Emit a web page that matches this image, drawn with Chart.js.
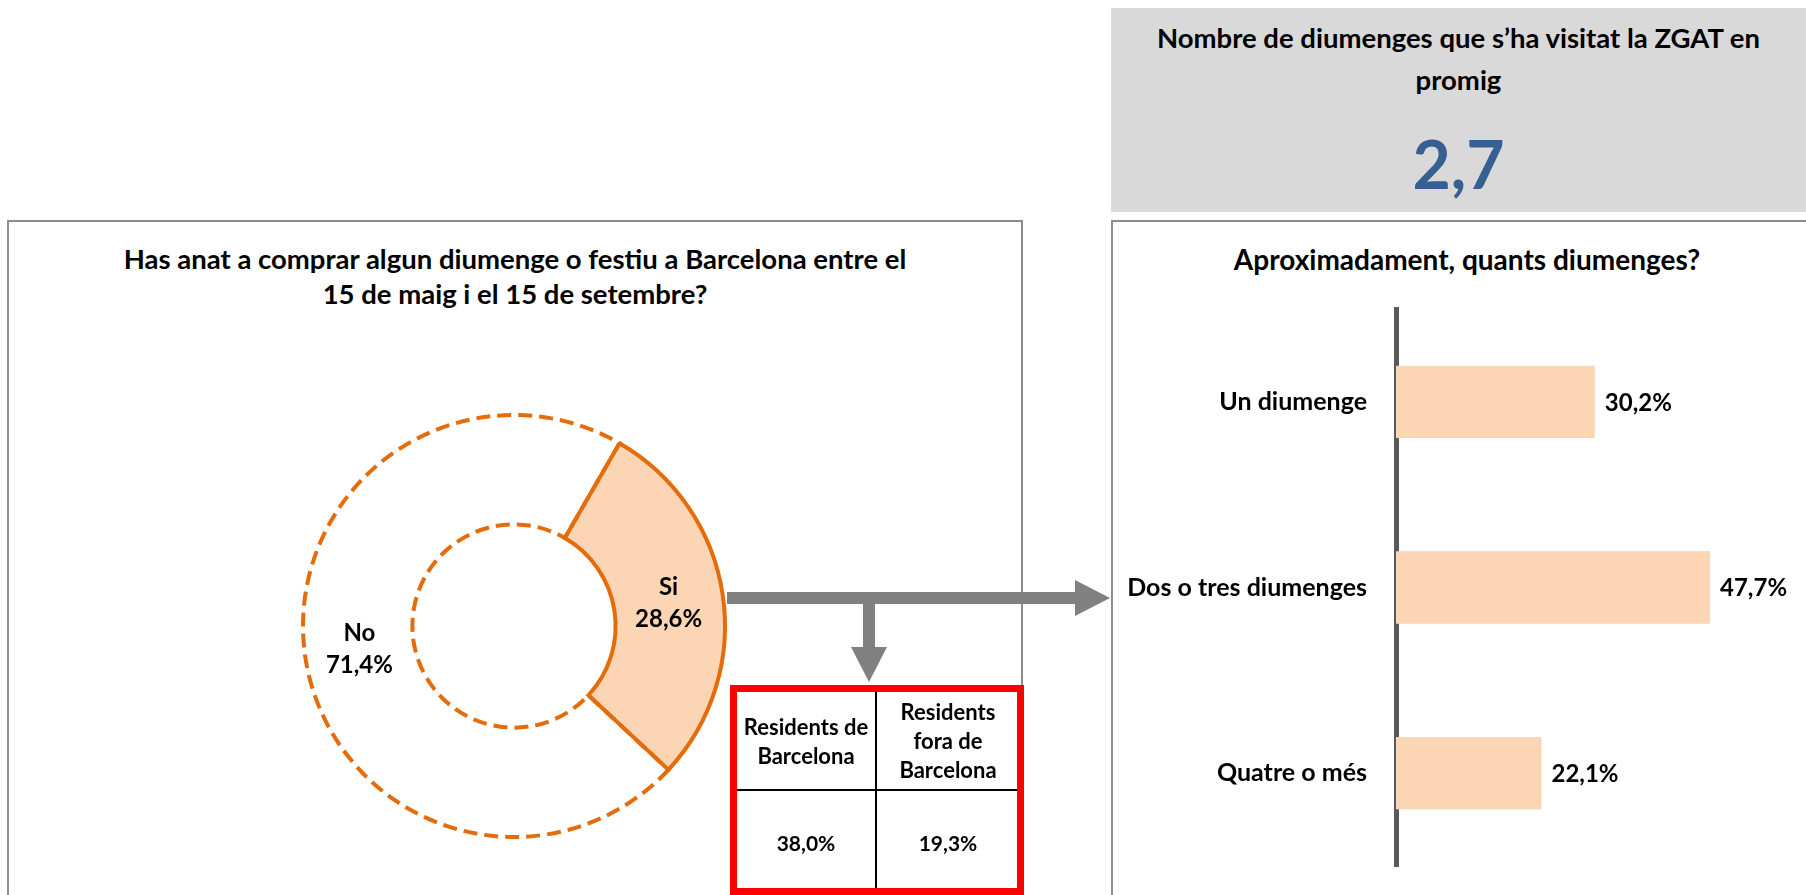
<!DOCTYPE html>
<html>
<head>
<meta charset="utf-8">
<script src="https://cdn.jsdelivr.net/npm/chart.js@4.4.1/dist/chart.umd.min.js"></script>
<style>
  html, body { margin: 0; padding: 0; background: #fff; }
  body { width: 1806px; height: 895px; position: relative; overflow: hidden;
         font-family: Lato, "Open Sans", sans-serif; font-weight: 700; color: #000; }
  .abs { position: absolute; }
  .panel { border: 2px solid #8c8c8c; box-sizing: border-box; }
  .title { text-align: center; font-size: 27.5px; line-height: 35px; }
  #topBox { left: 1111px; top: 8px; width: 695px; height: 204px; background: #d9d9d9; }
  #topTitle { left: 0; top: 9px; width: 100%; line-height: 42px; }
  #topValue { left: 0; top: 113px; width: 100%; text-align: center; font-size: 66px; line-height: 86px; color: #366092; }
  #resTable { left: 730px; top: 685px; width: 294px; height: 210px; border: 7px solid #ff0000; box-sizing: border-box; }
  .cell { position: absolute; display: flex; align-items: center; justify-content: center;
          text-align: center; font-size: 22px; line-height: 29px; }
</style>
</head>
<body>

<div class="abs panel" style="left:7px; top:220px; width:1016px; height:700px;"></div>
<div class="abs panel" style="left:1111px; top:220px; width:720px; height:700px;"></div>

<div class="abs title" style="left:7px; top:241px; width:1016px;">
  Has anat a comprar algun diumenge o festiu a Barcelona entre el<br>15 de maig i el 15 de setembre?
</div>

<div id="topBox" class="abs">
  <div id="topTitle" class="abs title">Nombre de diumenges que s’ha visitat la ZGAT en<br>promig</div>
  <div id="topValue" class="abs"></div>
</div>

<div class="abs title" style="left:1120px; top:242px; width:694px; font-size:28px;">Aproximadament, quants diumenges?</div>

<canvas id="donutChart" class="abs" width="440" height="440" style="left:294px; top:406px;"></canvas>
<canvas id="barChart" class="abs" width="693" height="600" style="left:1113px; top:290px;"></canvas>

<svg class="abs" width="1806" height="895" style="left:0; top:0;">
  <rect x="727" y="592" width="350" height="12" fill="#808080"/>
  <polygon points="1075,580 1110,598 1075,616" fill="#808080"/>
  <rect x="863" y="600" width="12" height="49" fill="#808080"/>
  <polygon points="851,647 887,647 869,682" fill="#808080"/>
</svg>

<div id="resTable" class="abs"></div>

<script>
// values
const donutLabels = ["Si", "No"];
const donutValues = [28.6, 71.4];

const barLabels = ["Un diumenge", "Dos o tres diumenges", "Quatre o més"];
const barValues = [30.2, 47.7, 22.1];

const residentLabels = ["Residents de<br>Barcelona", "Residents<br>fora de<br>Barcelona"];
const residentValues = [38.0, 19.3];

const averageSundays = 2.7;

const fontFamily = 'Lato, "Open Sans", sans-serif';
const pct = (v) => v.toFixed(1).replace(".", ",") + "%";

document.getElementById("topValue").textContent = averageSundays.toFixed(1).replace(".", ",");

// small table under the arrow
const table = document.getElementById("resTable");
let html = "";
residentLabels.forEach((lab, i) => {
  const left = i * 142;
  html += `<div class="cell" style="left:${left}px; top:0; width:138px; height:97px;">${lab}</div>`;
  html += `<div class="cell" style="left:${left}px; top:103px; width:138px; height:95px; font-size:21px;">${pct(residentValues[i])}</div>`;
});
html += `<div class="abs" style="left:138px; top:0; width:2px; height:196px; background:#000;"></div>`;
html += `<div class="abs" style="left:0; top:97px; width:280px; height:2px; background:#000;"></div>`;
table.innerHTML = html;

const donutText = {
  id: "donutText",
  afterDatasetsDraw(chart) {
    const ctx = chart.ctx;
    const meta = chart.getDatasetMeta(0);
    ctx.save();
    ctx.fillStyle = "#000";
    ctx.font = `bold 24px ${fontFamily}`;
    ctx.textAlign = "center";
    ctx.textBaseline = "middle";
    meta.data.forEach((arc, i) => {
      const p = arc.getCenterPoint();
      ctx.fillText(donutLabels[i], p.x, p.y - 16);
      ctx.fillText(pct(donutValues[i]), p.x, p.y + 16);
    });
    ctx.restore();
  }
};

new Chart(document.getElementById("donutChart"), {
  type: "doughnut",
  data: {
    labels: donutLabels,
    datasets: [{
      data: donutValues,
      backgroundColor: ["#fcd5b5", "rgba(255,255,255,0)"],
      borderColor: "#e46c0a",
      borderWidth: 4,
      borderDash: (c) => c.dataIndex === 1 ? [14, 7] : [],
      borderJoinStyle: "miter"
    }]
  },
  options: {
    responsive: false,
    animation: false,
    events: [],
    rotation: 30,
    radius: 211,
    cutout: 105,
    plugins: { legend: { display: false }, tooltip: { enabled: false } }
  },
  plugins: [donutText]
});

const barText = {
  id: "barText",
  afterDatasetsDraw(chart) {
    const ctx = chart.ctx;
    const meta = chart.getDatasetMeta(0);
    ctx.save();
    ctx.fillStyle = "#000";
    ctx.font = `bold 24px ${fontFamily}`;
    ctx.textAlign = "left";
    ctx.textBaseline = "middle";
    meta.data.forEach((bar, i) => {
      ctx.fillText(pct(barValues[i]), bar.x + 10, bar.y + 1);
    });
    ctx.restore();
  }
};

new Chart(document.getElementById("barChart"), {
  type: "bar",
  data: {
    labels: barLabels,
    datasets: [{
      data: barValues,
      backgroundColor: "#fcd5b5",
      borderWidth: 0,
      categoryPercentage: 1,
      barPercentage: 0.39
    }]
  },
  options: {
    indexAxis: "y",
    responsive: false,
    animation: false,
    events: [],
    layout: { padding: { top: 19, bottom: 24, right: 15, left: 0 } },
    plugins: { legend: { display: false }, tooltip: { enabled: false } },
    scales: {
      x: { display: false, min: 0, max: 60 },
      y: {
        grid: { display: false, drawTicks: false },
        border: { display: true, color: "#595959", width: 5 },
        ticks: { color: "#000", padding: 29, font: { family: fontFamily, size: 25, weight: "bold" } },
        afterFit: (s) => { s.width = 283; s.paddingTop = 0; s.paddingBottom = 0; }
      }
    }
  },
  plugins: [barText]
});
</script>
</body>
</html>
